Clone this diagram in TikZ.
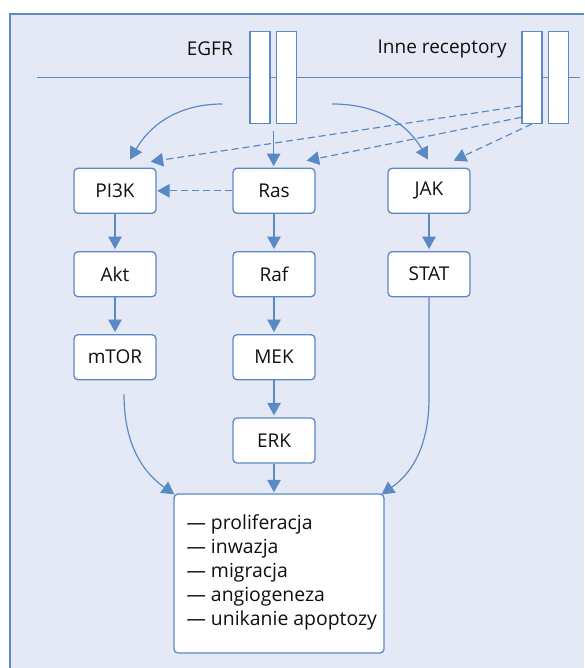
\documentclass[tikz,border=0pt]{standalone}
\usepackage{fontspec}
\setmainfont{Open Sans}
\usetikzlibrary{arrows.meta,calc}
\definecolor{lineblue}{HTML}{5A8AC6}
\definecolor{panelbg}{HTML}{E5E9F5}
\definecolor{txt}{HTML}{101010}
\begin{document}
\begin{tikzpicture}[x=1pt,y=1pt,
  box/.style={draw=lineblue, line width=1.3pt, fill=white, rounded corners=4pt,
    minimum width=82pt, minimum height=45pt, inner sep=0pt, text=txt,
    font=\fontsize{19}{24}\selectfont},
  bar/.style={draw=lineblue, line width=1.3pt, fill=white,
    minimum width=20pt, minimum height=91.6pt, inner sep=0pt},
  arr/.style={draw=lineblue, line width=1.2pt, -{Triangle[length=12.5pt,width=13.5pt]}},
  darr/.style={arr, dash pattern=on 7pt off 4pt},
  lbl/.style={font=\fontsize{19}{24}\selectfont, inner sep=0pt, text=txt},
  listlbl/.style={font=\fontsize{19.4}{24}\selectfont, inner sep=0pt, text=txt}]
\useasboundingbox (0,0) rectangle (584,-668);
% panel
\fill[panelbg] (10,-14) rectangle (584,-668);
\draw[lineblue, line width=1.3pt] (10,-668) -- (10,-14) -- (584,-14);
% membrane
\coordinate (memL) at (37,-77.7);
\coordinate (memR) at (580,-77.7);
\draw[lineblue, line width=1.3pt] (memL) -- (memR);
% receptors
\node[bar] (egfr1) at (260,-77.5) {};
\node[bar] (egfr2) at (286.3,-77.5) {};
\node[bar] (inne1) at (532,-77.5) {};
\node[bar] (inne2) at (558.7,-77.5) {};
\node[lbl, anchor=east] (egfrlbl) at (233,-49) {EGFR};
\node[lbl, anchor=east] (innelbl) at (507,-49) {Inne receptory};
% boxes
\node[box] (pi3k) at (115,-190.8) {PI3K};
\node[box] (ras)  at (274,-190.8) {Ras};
\node[box] (jak)  at (429,-190.8) {JAK};
\node[box] (akt)  at (115,-274.2) {Akt};
\node[box] (raf)  at (274,-274.2) {Raf};
\node[box] (stat) at (429,-274.2) {STAT};
\node[box] (mtor) at (115,-357.2) {mTOR};
\node[box] (mek)  at (274,-357.2) {MEK};
\node[box] (erk)  at (274,-440.5) {ERK};
\node[box, minimum width=210pt, minimum height=159pt] (out) at (279,-573.5) {};
\node[listlbl, anchor=west, align=left] (outtxt) at ($(out.west)+(13,1)$)
  {— proliferacja\\— inwazja\\— migracja\\— angiogeneza\\— unikanie apoptozy};
% EGFR connectors
\coordinate (egL) at ($(egfr1.west)+(-27,-26.5)$);
\coordinate (egR) at ($(egfr2.east)+(35.5,-26.5)$);
\coordinate (egD) at ($(egfr1.south east)+(3,-7)$);
\draw[arr] (egL) to[out=180,in=60] ($(pi3k.north)+(15,8)$);
\draw[arr] (egR) to[out=0,in=120] ($(jak.north)+(-1,8)$);
\draw[arr, shorten >=1.5pt] (egD) -- (egD |- ras.north);
% other receptors (dashed)
\coordinate (in1) at ($(inne1.west)+(0,-28.5)$);
\coordinate (in2) at ($(inne1.west)+(0,-39.8)$);
\draw[darr] (in1) -- ($(pi3k.north east)+(-6,6)$);
\draw[darr] (in2) -- ($(ras.north east)+(-9,7)$);
\draw[darr] (inne1.south) -- ($(jak.north east)+(-17,7)$);
\draw[darr, shorten >=0.5pt] (ras.west) -- (pi3k.east);
% cascades
\draw[arr, shorten >=2pt] (pi3k) -- (akt);
\draw[arr, shorten >=2pt] (akt) -- (mtor);
\draw[arr, shorten >=2pt] (ras) -- (raf);
\draw[arr, shorten >=2pt] (raf) -- (mek);
\draw[arr, shorten >=2pt] (mek) -- (erk);
\draw[arr, shorten >=2pt] (jak) -- (stat);
\draw[arr, shorten >=1pt] (erk.south) -- (erk.south |- out.north);
\draw[arr] ($(mtor.south)+(9,-14)$) to[out=-90,in=145] ($(out.north west)+(1,-1)$);
\draw[arr] (stat.south) -- ($(stat.south)+(0,-100)$) to[out=-90,in=35] ($(out.north east)+(-3,-1)$);
\end{tikzpicture}
\end{document}
